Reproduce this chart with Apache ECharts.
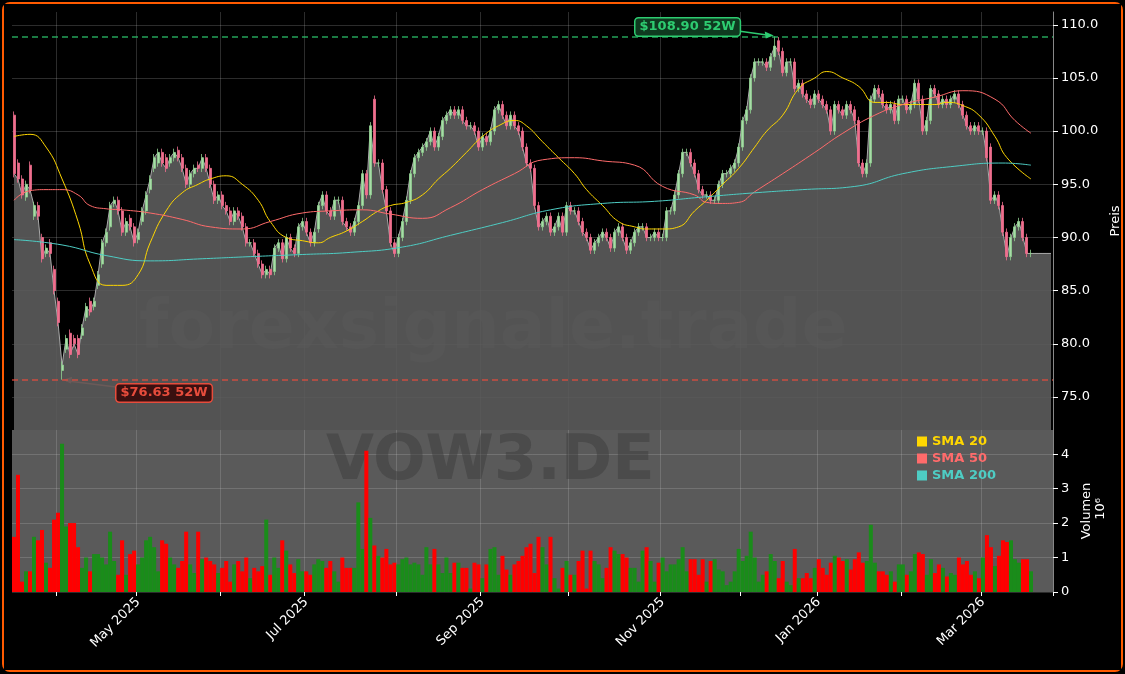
<!DOCTYPE html>
<html>
<head>
<meta charset="utf-8">
<script src="https://cdn.jsdelivr.net/npm/echarts@6/dist/echarts.min.js"></script>
<style>
html, body {margin: 0; padding: 0; background: #000;}
#chart {width: 1121px; height: 670px; border: 2px solid #ff5a00; border-radius: 8px; box-sizing: border-box; position: absolute; left: 2px; top: 2px;}
</style>
</head>
<body>
<div id="chart"></div>
<script>
var opens = [
101.5,97,95.5,93.8,96.8,92,93,90,88.5,89.5,87,84,77.5,79.5,81,80.5,80.5,80.8,82.5,84,83.5,85.5,87.5,89.5,91,93.2,93.5,92.5,90.5,91.8,91,89.8,91.5,92.5,94.5,96.5,97,98,97.5,97,97.5,98.2,97.5,
96.5,95,96,96.8,96.5,97.5,96.5,95,93.5,94,93,92.5,91.5,92.5,92,91,89.5,89.5,88.5,87.5,86.5,87,86.8,89,89.5,88,90,89,88.5,91,91.5,90.5,89.5,90.8,93,94,92.5,92,93.5,93.5,91.5,91,90.5,
91.5,93,96,94,103,97,97,94.5,92.5,89.5,88.5,90,91.5,93.5,96,97.5,98,98.5,99,100,98.5,99.5,101,101.5,102,101.5,102,101,100.5,100.5,100,98.5,99.5,99,100,102,102.5,101.5,100.5,101.5,100.5,100,98.5,97,
96.5,93,91,91.5,92,90.5,91,92,90.5,93,92.5,92.5,91.5,90.5,90,88.8,89.5,90,90.5,90,89,90.5,91,90,88.8,89.5,90.5,91,91,90,90,90.5,90,90,92.5,92.5,94,96,98,98,97,96,94.5,94,
94,93.5,93.5,95,96,96,96.5,97,98.5,101,102,105,106.5,106.5,106.5,106,107,108.5,107.5,105.5,106.5,106.5,104,104.5,103.5,103,102.5,103.5,103,102.5,102,100,102.5,102,101.5,102.5,102,101,97,96,97,103,104,103.5,102.5,
102,102.5,101,103,103,102,102.5,104.5,103,100,101,104,103.5,102.5,103,102.5,103,103.5,102.5,101.5,100.5,100,100.5,100,100,98.5,93.5,94,93,90.5,88.2,90,91,91.5,90,88.5
];
var closes = [
96,95.5,94,95,94.5,93,92,88,89,88.5,85,82,78,80.5,79,80,79,81.5,83.5,83,84,86.5,89.5,90.5,93,93.5,92.5,90.5,91.5,91,89.5,90.5,92.5,94,95.5,97.5,98,97,96.5,97.5,98,97.5,96.5,
95,96,96.5,96.5,97.5,96.5,95,93.5,94,93,92.5,91.5,92.5,92,91,89.5,89.5,88.5,87.5,86.5,87,86.5,89,89.5,88,90,89,88.5,91,91.5,90.5,89.5,90.5,93,94,92.5,92,93.5,93.5,91.5,91,90.5,91.5,
93,96,94,100.5,97,97,94.5,92.5,89.5,88.5,90,91.5,93.5,96,97.5,98,98.5,99,100,98.5,99.5,101,101.5,102,101.5,102,101,100.5,100.5,100,98.5,99.5,99,100,102,102.5,101.5,100.5,101.5,100.5,100,98.5,97,96.5,
93,91,91.5,92,90.5,91,92,90.5,93,92.5,92.5,91.5,90.5,90,88.8,89.5,90,90.5,90,89,90.5,91,90,88.8,89.5,90.5,91,91,90,90,90.5,90,90,92.5,92.5,94,96,98,98,97,96,94.5,94,94,
93.5,93.5,95,96,96,96.5,97,98.5,101,102,105,106.5,106.5,106.5,106,107,108,107.5,105.5,106.5,106.5,104,104.5,103.5,103,102.5,103.5,103,102.5,102,100,102.5,102,101.5,102.5,102,101,97,96,97,103,104,103.5,102.5,102,
102.5,101,103,103,102,102.5,104.5,103,100,101,104,103.5,102.5,103,102.5,103,103.5,102.5,101.5,100.5,100,100.5,100,100,97.5,93.5,94,93,90.5,88.2,90,91,91.5,90,88.5,88.5
];
var volumes = [
1.6,3.4,0.3,0.6,0.6,1.6,1.5,1.8,0.85,0.7,2.1,2.3,4.3,1.9,2.0,2.0,1.3,0.7,1.0,0.6,1.1,1.1,1.0,0.8,1.75,0.9,0.5,1.5,0.5,1.1,1.2,0.8,1.0,1.5,1.6,1.3,0.6,1.5,1.4,1.0,0.8,0.7,0.9,
1.75,0.8,0.55,1.75,0.95,1.0,0.9,0.8,0.55,0.7,0.9,0.3,0.8,0.9,0.6,1.0,0.4,0.7,0.6,0.75,2.1,0.5,1.0,0.7,1.5,1.2,0.8,0.55,0.95,0.6,0.6,0.5,0.8,0.95,0.9,0.7,0.9,0.6,0.3,1.0,0.7,0.7,0.7,
2.6,1.25,4.1,2.15,1.35,1.05,1.0,1.25,0.8,0.85,0.8,0.95,1.0,0.8,0.85,0.8,0.5,1.3,0.8,1.25,0.8,0.55,1.0,0.55,0.85,0.85,0.7,0.7,0.1,0.85,0.8,0.4,0.8,1.25,1.3,0.5,1.05,0.65,0.5,0.8,0.9,1.05,1.3,1.4,
0.55,1.6,1.3,0.8,1.6,0.4,0.1,0.7,0.9,0.5,0.5,0.9,1.2,0.1,1.2,0.9,0.8,0.4,0.7,1.3,1.2,1.1,1.1,1.0,0.7,0.7,0.3,1.2,1.3,0.9,0.3,0.85,1.0,0.6,0.8,0.8,0.95,1.3,0.6,0.95,0.95,0.5,0.95,0.3,
0.9,0.95,0.65,0.6,0.2,0.3,0.6,1.25,0.9,1.05,1.75,1.0,0.3,0.5,0.6,1.1,0.9,0.4,0.9,0.3,0.2,1.25,0.4,0.4,0.55,0.4,0.7,0.95,0.7,0.5,0.85,1.05,1.0,0.9,0.95,0.65,0.95,1.15,0.85,0.9,1.95,0.85,0.6,0.6,0.5,
0.6,0.3,0.8,0.8,0.5,0.6,1.1,1.15,1.1,0.5,0.95,0.55,0.8,0.7,0.45,0.55,0.5,1.0,0.8,0.9,0.5,0.6,0.4,1.0,1.65,1.3,0.75,1.05,1.5,1.45,1.5,0.95,0.85,0.95,0.95,0.6
];
// price line keeps going flat after the last candle
var tailCloses = [88.5, 88.5, 88.5, 88.5, 88.5];
var low52 = {idx: 12, value: 76.63};
var high52 = {idx: 190, value: 108.9};
var priceTicks = [75, 80, 85, 90, 95, 100, 105, 110];
var volTicks = [0, 1, 2, 3, 4];

// [day index, value]
var sma20 = [[0,99.5],[4,99.7],[8,98.5],[12,95.5],[16,91.5],[19,87.5],[23,85.5],[27,85.5],[31,86.5],[34,89.5],[38,92.5],[42,94.2],[46,95],[49,95.5],[53,95.8],[57,95],[61,93.5],[64,91.5],[68,90],[72,89.7],[76,89.5],[79,90],[83,90.6],[87,91.5],[91,92.5],[94,93],[98,93.3],[102,94],[106,95.5],[109,96.5],[113,98],[117,99.5],[121,100.5],[125,101],[128,100.5],[132,99],[136,97.5],[140,96],[143,94.5],[147,93],[151,91.5],[155,91],[158,90.8],[162,90.8],[166,91],[170,92.5],[173,93.5],[177,95],[181,96.5],[185,98.5],[188,100],[192,101.5],[196,104],[200,105],[203,105.6],[207,105],[211,104.2],[215,102.7],[218,102.7],[222,102.5],[226,102.5],[230,102.5],[233,102.7],[237,102.4],[241,101.5],[245,99.5],[248,97.5],[254,95.5]];
var sma50 = [[0,93.5],[4,94.4],[8,94.5],[12,94.5],[16,94],[19,93],[23,92.7],[27,92.6],[34,92.3],[42,91.7],[49,91],[57,90.8],[64,91.5],[72,92.3],[79,92.5],[87,92.6],[94,92.2],[102,91.8],[109,92.8],[117,94.5],[125,96],[132,97.3],[140,97.5],[147,97.2],[155,96.8],[162,94.8],[170,94],[173,93.3],[177,93.2],[181,93.3],[185,94.3],[192,96],[200,98],[207,99.8],[215,101.5],[222,102.5],[230,103.2],[237,103.8],[245,103],[250,101],[254,99.8]];
var sma200 = [[0,89.8],[12,89.3],[23,88.3],[34,87.8],[47,88],[59,88.2],[72,88.4],[84,88.6],[97,89.1],[109,90.2],[122,91.4],[134,92.6],[147,93.2],[160,93.4],[172,93.8],[185,94.2],[197,94.5],[210,94.8],[222,96],[235,96.7],[247,97],[254,96.8]];

var holidays = ['2025-04-18','2025-04-21','2025-05-01','2025-12-24','2025-12-25','2025-12-26','2025-12-31','2026-01-01'];
var monthNames = ['Jan','Feb','Mar','Apr','May','Jun','Jul','Aug','Sep','Oct','Nov','Dec'];

function pad(n) { return n < 10 ? '0' + n : '' + n; }
var dates = [];
var d = new Date(Date.UTC(2025, 2, 17));
var total = closes.length + tailCloses.length;
while (dates.length < total) {
    var wd = d.getUTCDay();
    var s = d.getUTCFullYear() + '-' + pad(d.getUTCMonth() + 1) + '-' + pad(d.getUTCDate());
    if (wd !== 0 && wd !== 6 && holidays.indexOf(s) < 0) dates.push(s);
    d.setUTCDate(d.getUTCDate() + 1);
}
function isMonthStart(i) {
    return i > 0 && dates[i].slice(5, 7) !== dates[i - 1].slice(5, 7);
}

var candles = [], volData = [], area = [];
for (var i = 0; i < closes.length; i++) {
    var o = opens[i], c = closes[i];
    var lo = Math.min(o, c) - 0.35, hi = Math.max(o, c) + 0.35;
    if (i === low52.idx) lo = low52.value;
    if (i === high52.idx) hi = high52.value;
    candles.push([o, c, lo, hi]);
    volData.push({value: volumes[i], itemStyle: {color: c >= o ? '#1a8c1a' : '#ff0000'}});
    area.push(c);
}
area = area.concat(tailCloses);

var chart = echarts.init(document.getElementById('chart'));
var axisText = {color: '#fff', fontSize: 13, fontFamily: 'DejaVu Sans'};
var gridLine = {color: 'rgba(200,200,200,0.22)', width: 1};

chart.setOption({
    backgroundColor: '#000',
    animation: false,
    grid: [
        {left: 8, right: 68, top: 8, height: 418, outerBoundsMode: 'none'},
        {left: 8, right: 68, top: 426, bottom: 78, show: true, backgroundColor: '#5a5a5a', borderWidth: 0, outerBoundsMode: 'none'}
    ],
    legend: {
        orient: 'vertical', left: 908, top: 426, itemWidth: 10, itemHeight: 10, itemGap: 4,
        icon: 'rect',
        data: [
            {name: 'SMA 20', textStyle: {color: '#ffd700'}},
            {name: 'SMA 50', textStyle: {color: '#ff6b6b'}},
            {name: 'SMA 200', textStyle: {color: '#4ecdc4'}}
        ],
        textStyle: {fontWeight: 'bold', fontSize: 13, fontFamily: 'DejaVu Sans'}
    },
    xAxis: [
        {type: 'category', gridIndex: 0, data: dates, boundaryGap: true,
         axisLine: {show: false, onZero: false}, axisTick: {show: false}, axisLabel: {show: false},
         splitLine: {show: true, interval: function(i) { return isMonthStart(i); }, lineStyle: gridLine}},
        {type: 'category', gridIndex: 1, data: dates, boundaryGap: true,
         axisLine: {show: false, onZero: false},
         axisTick: {show: true, interval: function(i) { return isMonthStart(i); }, lineStyle: {color: '#fff'}, length: 4},
         axisLabel: {
             color: '#fff', fontSize: 13, fontFamily: 'DejaVu Sans', rotate: 45, margin: 8,
             interval: function(i) { return isMonthStart(i) && (+dates[i].slice(5, 7)) % 2 === 1; },
             formatter: function(v) { return monthNames[+v.slice(5, 7) - 1] + ' ' + v.slice(0, 4); }
         },
         splitLine: {show: true, interval: function(i) { return isMonthStart(i); }, lineStyle: gridLine}}
    ],
    yAxis: [
        {type: 'value', gridIndex: 0, position: 'right', min: 71.9, max: 111.2,
         axisLine: {show: true, onZero: false, lineStyle: {color: '#888'}},
         axisTick: {show: true, customValues: priceTicks, lineStyle: {color: '#fff'}},
         axisLabel: {color: '#fff', fontSize: 13, fontFamily: 'DejaVu Sans', customValues: priceTicks, formatter: function(v) { return v.toFixed(1); }},
         splitLine: {show: true, lineStyle: gridLine},
         name: 'Preis', nameLocation: 'middle', nameRotate: 90, nameGap: 42, nameTextStyle: axisText},
        {type: 'value', gridIndex: 1, position: 'right', min: 0, max: 4.7,
         axisLine: {show: true, onZero: false, lineStyle: {color: '#888'}},
         axisTick: {show: true, customValues: volTicks, lineStyle: {color: '#fff'}},
         axisLabel: {color: '#fff', fontSize: 13, fontFamily: 'DejaVu Sans', customValues: volTicks},
         splitLine: {show: true, lineStyle: gridLine},
         name: 'Volumen', nameLocation: 'middle', nameRotate: 90, nameGap: 20, nameTextStyle: axisText}
    ],
    series: [
        {type: 'line', name: 'Close', xAxisIndex: 0, yAxisIndex: 0, data: area, symbol: 'none',
         lineStyle: {color: '#aaa', width: 1}, areaStyle: {color: '#5c5c5c', opacity: 0.9, origin: 'start'}, z: 1,
         markLine: {
             silent: true, symbol: 'none', label: {show: false},
             data: [
                 {yAxis: high52.value, lineStyle: {color: '#2ecc71', type: [6, 4], width: 1.5, opacity: 0.8}},
                 {yAxis: low52.value, lineStyle: {color: '#e74c3c', type: [6, 4], width: 1.5, opacity: 0.8}}
             ]
         }},
        {type: 'candlestick', name: 'VOW3', xAxisIndex: 0, yAxisIndex: 0, data: candles, barWidth: 2.5, z: 3,
         itemStyle: {color: '#a8dca8', color0: '#f06f8e', borderColor: '#8fcf8f', borderColor0: '#f06f8e', borderWidth: 0.8}},
        {type: 'line', name: 'SMA 20', xAxisIndex: 0, yAxisIndex: 0, data: sma20, smooth: true, symbol: 'none',
         lineStyle: {color: '#ffd700', width: 1}, itemStyle: {color: '#ffd700'}, z: 4},
        {type: 'line', name: 'SMA 50', xAxisIndex: 0, yAxisIndex: 0, data: sma50, smooth: true, symbol: 'none',
         lineStyle: {color: '#ff6b6b', width: 1}, itemStyle: {color: '#ff6b6b'}, z: 4},
        {type: 'line', name: 'SMA 200', xAxisIndex: 0, yAxisIndex: 0, data: sma200, smooth: true, symbol: 'none',
         lineStyle: {color: '#4ecdc4', width: 1}, itemStyle: {color: '#4ecdc4'}, z: 4},
        {type: 'bar', name: 'Volumen', xAxisIndex: 1, yAxisIndex: 1, data: volData, barCategoryGap: '0%', z: 3}
    ]
});

var hp = chart.convertToPixel({xAxisIndex: 0, yAxisIndex: 0}, [high52.idx, high52.value]);
var lp = chart.convertToPixel({xAxisIndex: 0, yAxisIndex: 0}, [low52.idx, low52.value]);
chart.setOption({
    graphic: [
        {type: 'text', left: 135, top: 292, z: 0, silent: true,
         style: {text: 'forexsignale.trade', font: 'bold 68px "DejaVu Sans"', fill: 'rgba(60,60,60,0.5)'}},
        {type: 'text', left: 322, top: 428, z: 0, silent: true,
         style: {text: 'VOW3.DE', font: 'bold 62px "DejaVu Sans"', fill: 'rgba(60,60,60,0.5)'}},
        {type: 'text', left: 1090, top: 494, rotation: Math.PI / 2, silent: true,
         style: {text: '10⁶', font: '13px "DejaVu Sans"', fill: '#fff'}},
        {type: 'line', shape: {x1: 727, y1: 26, x2: hp[0] - 4, y2: hp[1] - 1}, style: {stroke: '#2ecc71', lineWidth: 1.5}},
        {type: 'polygon', shape: {points: [[hp[0] - 1, hp[1] - 1], [hp[0] - 10, hp[1] - 5], [hp[0] - 9, hp[1] + 2]]}, style: {fill: '#2ecc71'}},
        {type: 'text', left: 630, top: 13, z: 10,
         style: {text: '$108.90 52W', font: 'bold 13px "DejaVu Sans"', fill: '#2ecc71', backgroundColor: '#0f3a20',
                 borderColor: '#2ecc71', borderWidth: 1.5, borderRadius: 3, padding: [2, 4]}},
        {type: 'line', shape: {x1: 112, y1: 383, x2: lp[0] + 4, y2: lp[1] + 1}, style: {stroke: '#e74c3c', lineWidth: 1.5}},
        {type: 'polygon', shape: {points: [[lp[0] + 1, lp[1]], [lp[0] + 10, lp[1] - 3], [lp[0] + 9, lp[1] + 4]]}, style: {fill: '#e74c3c'}},
        {type: 'text', left: 111, top: 379, z: 10,
         style: {text: '$76.63 52W', font: 'bold 13px "DejaVu Sans"', fill: '#e74c3c', backgroundColor: '#3a1010',
                 borderColor: '#e74c3c', borderWidth: 1.5, borderRadius: 3, padding: [2, 4]}}
    ]
});
</script>
</body>
</html>
